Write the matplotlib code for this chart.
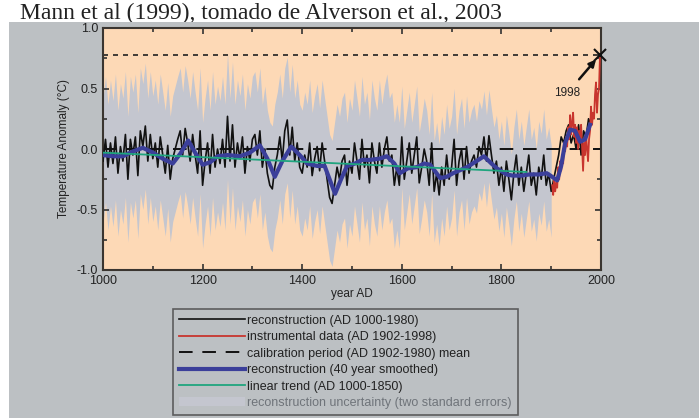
import numpy as np
import matplotlib
matplotlib.use("Agg")
import matplotlib.pyplot as plt
from matplotlib.patches import Rectangle

# reconstruction (AD 1000-1980), read every 5 years
recon_years = np.arange(1000, 1981, 5)
recon = [
    -0.10, 0.08, -0.15, 0.05, -0.12, 0.10, -0.20, 0.02, -0.10, 0.12,
    -0.25, 0.08, -0.05, 0.10, -0.22, 0.15, 0.02, 0.19, -0.10, 0.12,
    -0.08, 0.05, -0.15, 0.10, -0.05, -0.20, 0.03, -0.25, -0.08, 0.00,
    0.08, 0.15, -0.05, 0.17, 0.05, -0.10, 0.12, -0.05, -0.20, 0.15,
    -0.30, -0.10, 0.05, -0.20, 0.12, -0.15, 0.00, -0.12, 0.08, -0.15,
    0.27, -0.10, 0.20, -0.15, 0.05, -0.08, 0.10, -0.20, 0.02, -0.10,
    0.08, 0.12, -0.05, 0.15, -0.15, 0.00, -0.20, -0.30, -0.33, -0.15,
    -0.05, 0.10, -0.10, 0.15, 0.24, -0.05, 0.18, -0.10, 0.05, -0.15,
    -0.20, -0.05, -0.15, 0.05, -0.22, -0.08, 0.02, -0.18, 0.05, -0.10,
    -0.25, -0.40, -0.45, -0.30, -0.15, -0.25, -0.10, -0.05, -0.30, -0.10,
    -0.20, 0.05, -0.10, -0.25, 0.08, -0.15, -0.05, -0.28, 0.05, -0.10,
    -0.20, 0.05, -0.15, 0.00, 0.10, -0.10, -0.05, -0.30, -0.15, -0.30,
    0.10, -0.25, -0.10, 0.05, -0.20, -0.05, 0.10, -0.28, -0.15, 0.00,
    -0.10, -0.30, 0.05, -0.35, -0.20, -0.38, -0.15, -0.30, -0.05, -0.25,
    -0.15, 0.08, -0.30, -0.10, 0.00, -0.25, 0.02, -0.20, -0.10, -0.05,
    -0.15, 0.02, -0.05, 0.10, -0.10, 0.11, -0.05, -0.20, -0.10, -0.30,
    -0.15, -0.35, -0.10, -0.25, -0.42, -0.20, -0.05, -0.30, -0.15, -0.35,
    -0.20, -0.05, -0.30, -0.20, -0.38, -0.15, -0.25, -0.05, -0.30, -0.20,
    -0.35, -0.25, -0.15, -0.05, 0.10, 0.05, 0.15, 0.20, 0.05, 0.12,
    0.00, 0.20, -0.05, 0.15, 0.10, 0.25, 0.20,
]

# instrumental data (AD 1902-1998), every 2 years
instr_years = np.arange(1902, 1999, 2)
instr = [
    -0.30, -0.38, -0.25, -0.35, -0.28, -0.32, -0.15, -0.25, -0.10, -0.18,
    -0.05, -0.12, 0.05, -0.02, 0.10, 0.02, 0.18, 0.08, 0.28, 0.12,
    0.22, 0.30, 0.10, 0.20, 0.05, 0.18, 0.00, 0.15, 0.10, 0.20,
    0.02, -0.18, 0.05, -0.05, 0.12, 0.00, -0.10, 0.08, 0.15, 0.35,
    0.20, 0.30, 0.25, 0.45, 0.55, 0.30, 0.45, 0.50, 0.78,
]

# 40 year smoothed reconstruction
smooth_years = [1000, 1020, 1040, 1060, 1080, 1100, 1120, 1140, 1155, 1171,
                1185, 1200, 1215, 1230, 1250, 1275, 1295, 1315, 1330, 1345,
                1360, 1378, 1395, 1410, 1430, 1445, 1455, 1466, 1478, 1490,
                1506, 1520, 1536, 1555, 1570, 1585, 1596, 1612, 1630, 1645,
                1657, 1677, 1690, 1703, 1731, 1750, 1765, 1780, 1791, 1810,
                1823, 1840, 1857, 1875, 1891, 1902, 1912, 1920, 1928, 1938,
                1948, 1958, 1968, 1978]
smooth = [-0.05, -0.06, -0.06, -0.02, 0.01, -0.03, -0.08, -0.12, -0.04, 0.07,
          -0.03, -0.13, -0.11, -0.06, -0.05, -0.06, -0.03, 0.03, -0.08, -0.23,
          -0.10, 0.02, -0.05, -0.12, -0.14, -0.14, -0.25, -0.37, -0.25, -0.14,
          -0.12, -0.09, -0.09, -0.08, -0.06, -0.12, -0.20, -0.16, -0.15, -0.12,
          -0.13, -0.24, -0.23, -0.20, -0.15, -0.10, -0.06, -0.12, -0.16, -0.21,
          -0.22, -0.22, -0.21, -0.21, -0.20, -0.23, -0.26, -0.14, 0.05, 0.16,
          0.15, 0.06, 0.08, 0.20]

# linear trend (AD 1000-1850)
trend_years = [1000, 1850]
trend = [-0.03, -0.19]

# two standard errors, by period start year
err_start = [1000, 1600, 1750]
err_half = [0.52, 0.42, 0.38]
band_end = 1900

calib_mean = 0.0
peak_year = 1998
peak_value = 0.78

PEACH = "#fdd9b6"
PANEL = "#bcc0c3"
BAND = "#c4c6cf"

recon = np.array(recon)
fig = plt.figure(figsize=(6.99, 4.18), dpi=100)
fig.patch.set_facecolor("white")
fig.add_artist(Rectangle((9 / 699, 0), 1, 1 - 22 / 418, transform=fig.transFigure,
                         facecolor=PANEL, edgecolor="none", zorder=-10))
fig.text(20 / 699, 1 - 19 / 418, "Mann et al (1999), tomado de Alverson et al., 2003",
         fontsize=17, family="Liberation Serif", color="#222222", va="baseline",
         zorder=-20)

ax = fig.add_axes([103 / 699, 1 - 270 / 418, 498 / 699, 242 / 418])
ax.set_facecolor(PEACH)

mask = recon_years <= band_end
half = np.array(err_half)[np.searchsorted(err_start, recon_years[mask], side="right") - 1]
ax.fill_between(recon_years[mask], recon[mask] - half, recon[mask] + half,
                color=BAND, lw=0, zorder=1,
                label="reconstruction uncertainty (two standard errors)")
ax.axhline(peak_value, color="#222222", lw=1.2, ls=(0, (3, 3)), zorder=2)
ax.plot([1000, 2000], [calib_mean, calib_mean], color="#111111", lw=1.4,
        ls=(0, (7, 5)), zorder=2, label="calibration period (AD 1902-1980) mean")
ax.plot(recon_years, recon, color="#111111", lw=1.2, zorder=3,
        label="reconstruction (AD 1000-1980)")
ax.plot(instr_years, instr, color="#c8352e", lw=1.3, zorder=4,
        label="instrumental data (AD 1902-1998)")
ax.plot(smooth_years, smooth, color="#3b3f9a", lw=3, zorder=5,
        label="reconstruction (40 year smoothed)")
ax.plot(trend_years, trend, color="#1fa57e", lw=1.3, zorder=6,
        label="linear trend (AD 1000-1850)")
ax.plot([peak_year], [peak_value], marker="x", color="#111111", ms=9, mew=1.5,
        zorder=7, clip_on=False)
ax.annotate("1998", xy=(1990, 0.74), xytext=(1932, 0.46), fontsize=8.5,
            family="Liberation Sans", color="#222222", ha="center", va="center",
            arrowprops=dict(arrowstyle="-|>", color="#111111", lw=1.8,
                            shrinkA=5, shrinkB=0, mutation_scale=10))

ax.set_xlim(1000, 2000)
ax.set_ylim(-1.0, 1.0)
ax.set_xticks(range(1000, 2001, 200))
ax.set_xticks(range(1000, 2001, 100), minor=True)
ax.set_yticks([-1.0, -0.5, 0.0, 0.5, 1.0])
ax.set_yticklabels(["-1.0", "-0.5", "0.0", "0.5", "1.0"])
ax.set_yticks(np.arange(-1.0, 1.01, 0.25), minor=True)
ax.tick_params(which="both", direction="in", top=True, right=True, color="#333333",
               labelsize=9, labelcolor="#222222", width=1.2)
ax.tick_params(which="major", length=4)
ax.tick_params(which="minor", length=3)
for lab in ax.get_xticklabels() + ax.get_yticklabels():
    lab.set_family("Liberation Sans")
for s in ax.spines.values():
    s.set_color("#3a3530")
    s.set_linewidth(1.5)

ax.set_xlabel("year AD", fontsize=8.5, family="Liberation Sans", color="#222222", labelpad=1)
ax.set_ylabel("Temperature Anomaly (\u00b0C)", fontsize=8.5, family="Liberation Sans",
              color="#222222", labelpad=5)

handles, labels = ax.get_legend_handles_labels()
order = ["reconstruction (AD 1000-1980)", "instrumental data (AD 1902-1998)",
         "calibration period (AD 1902-1980) mean", "reconstruction (40 year smoothed)",
         "linear trend (AD 1000-1850)", "reconstruction uncertainty (two standard errors)"]
hmap = dict(zip(labels, handles))
leg = fig.legend([hmap[l] for l in order], order, loc="upper left",
                 bbox_to_anchor=(173 / 699, 1 - 309 / 418), bbox_transform=fig.transFigure,
                 borderaxespad=0, frameon=True, fancybox=False, handlelength=5.3,
                 handletextpad=0.2, labelspacing=0.36, borderpad=0.45,
                 prop={"family": "Liberation Sans", "size": 9})
leg.get_frame().set_facecolor(PANEL)
leg.get_frame().set_edgecolor("#444444")
leg.get_frame().set_linewidth(1.2)
for t in leg.get_texts():
    t.set_color("#222222")
leg.get_texts()[-1].set_color("#6f747a")

fig.savefig("out.png", dpi=100)
